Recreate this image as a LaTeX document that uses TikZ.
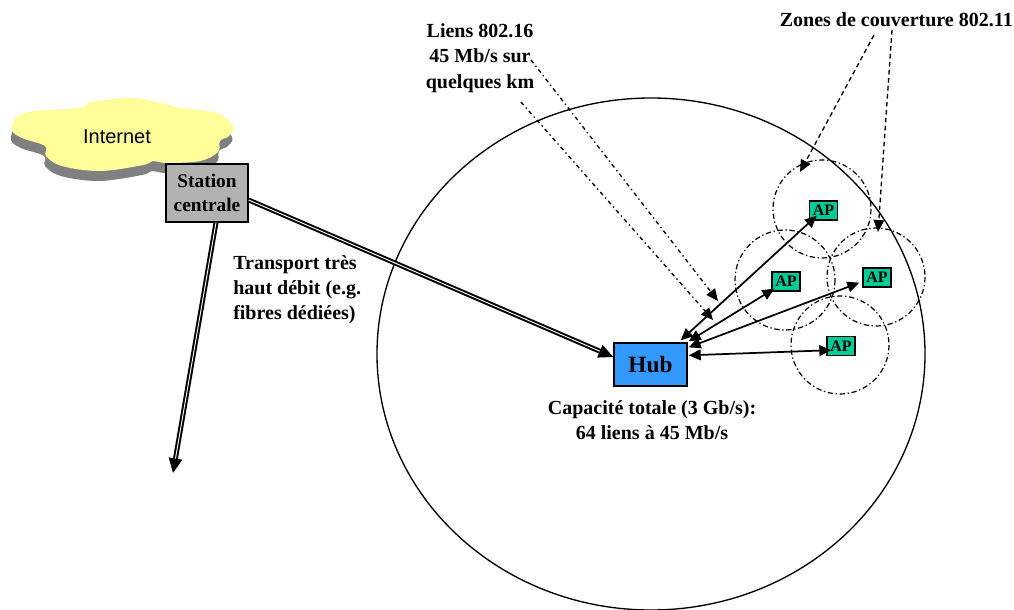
\documentclass[tikz,border=0pt]{standalone}
\usepackage{fontspec}
\setmainfont{Liberation Serif}
\newfontfamily\cloudfont{Liberation Sans}
\usetikzlibrary{arrows.meta}
\definecolor{cloudy}{HTML}{FFFF99}
\definecolor{cloudg}{HTML}{808080}
\definecolor{stationg}{HTML}{B2B2B2}
\definecolor{hubblue}{HTML}{3399FF}
\definecolor{apgreen}{HTML}{00CC99}
\newcommand{\cloudshape}{%
 plot[smooth cycle,tension=0.6] coordinates {
 (12,130) (17,117) (35,111) (80,108) (92,102) (133,98) (165,104) (180,108)
 (217,113) (233,127) (229,136) (220,141) (218,152) (200,161) (167,163) (153,161)
 (143,165) (100,171) (62,166) (46,156) (45,146) (22,138)}}
\tikzset{
 boldtxt/.style={font=\fontsize{15}{19}\selectfont\bfseries,align=center,inner sep=0pt},
 boxnode/.style={draw=black,line width=1pt,inner sep=0pt,align=center},
 stationbox/.style={boxnode,fill=stationg,minimum width=61.5pt,minimum height=43.5pt,font=\fontsize{14.5}{18.5}\selectfont\bfseries},
 hubbox/.style={boxnode,fill=hubblue,minimum width=54.75pt,minimum height=32.25pt,font=\fontsize{17.5}{18}\selectfont\bfseries},
 apbox/.style={boxnode,fill=apgreen,minimum width=21pt,minimum height=14.25pt,font=\fontsize{12}{12}\selectfont\bfseries},
 zone/.style={draw=black,line width=0.9pt,dash pattern=on 4pt off 2pt on 1pt off 2pt},
 linkarrow/.style={line width=1.3pt,{Triangle[length=9pt,width=8pt]}-{Triangle[length=9pt,width=8pt]}},
 fibre/.style={line width=1.5pt,double=white,double distance=0.7pt,-{Triangle[length=11pt,width=10pt,fill=black]}},
 liens/.style={line width=1pt,dash pattern=on 3pt off 2.5pt on 1pt off 2.5pt,-{Triangle[length=9pt,width=8pt]}},
 zonesline/.style={line width=1pt,dash pattern=on 3.5pt off 2.5pt,-{Triangle[length=9pt,width=8pt]}}
}
\begin{document}
\begin{tikzpicture}[x=0.75pt,y=-0.75pt]
\path[use as bounding box,fill=white] (0,0) rectangle (1014,610);
% cloud
\fill[cloudg,shift={(-1,10)}] \cloudshape;
\fill[cloudy] \cloudshape;
\node[inner sep=0pt,font=\fontsize{15}{15}\selectfont\cloudfont] (internet) at (117,137) {Internet};
% cell
\draw[line width=1pt] (651,354) ellipse [x radius=274,y radius=256];
\draw[zone] (822,209) circle [radius=49];
\draw[zone] (785,280) circle [radius=50];
\draw[zone] (876,277) circle [radius=49];
\draw[zone] (840,345) circle [radius=49];
% nodes
\node[stationbox] (station) at (207,193) {Station\\centrale};
\node[hubbox] (hub) at (650.5,364.5) {Hub};
\node[apbox] (ap1) at (823.5,210.5) {AP};
\node[apbox] (ap2) at (786,281.5) {AP};
\node[apbox] (ap3) at (877,277.5) {AP};
\node[apbox] (ap4) at (841,346) {AP};
% labels
\node[boldtxt] (liens) at (480,58) {Liens 802.16\\45 Mb/s sur\\quelques km};
\node[boldtxt,anchor=east] (zones) at (1013,20) {Zones de couverture 802.11};
\node[boldtxt,align=left,anchor=north west] (transport) at (233,255) {Transport très\\haut débit (e.g.\\fibres dédiées)};
\node[boldtxt] (capa) at (652,420) {Capacité totale (3 Gb/s):\\64 liens à 45 Mb/s};
% free ends
\coordinate (south) at (173,473);
\coordinate (l1s) at (531,60);
\coordinate (l2s) at (521,102);
\coordinate (l1e) at (718,301);
\coordinate (l2e) at (713,320);
\coordinate (z1s) at (874,35);
\coordinate (z2s) at (892,30);
\coordinate (z1e) at (800,172);
\coordinate (z2e) at (878,232);
% connectors
\draw[fibre] (station.east |- 0,200) -- ([shift={(0,-7.5)}]hub.west);
\draw[fibre] ([shift={(9,0)}]station.south) -- (south);
\draw[liens] (l1s) -- (l1e);
\draw[liens] (l2s) -- (l2e);
\draw[zonesline] (z1s) -- (z1e);
\draw[zonesline] (z2s) -- (z2e);
\draw[linkarrow] ([shift={(-7,-2)}]hub.north east) -- ([shift={(8,-5)}]ap1.south west);
\draw[linkarrow] ([shift={(1,-1)}]hub.north east) -- ([shift={(3,-3)}]ap2.south west);
\draw[linkarrow] ([shift={(1,5)}]hub.north east) -- ([shift={(-3,-5)}]ap3.south west);
\draw[linkarrow] ([shift={(1,13)}]hub.north east) -- ([shift={(5,-6)}]ap4.south west);
\end{tikzpicture}
\end{document}
